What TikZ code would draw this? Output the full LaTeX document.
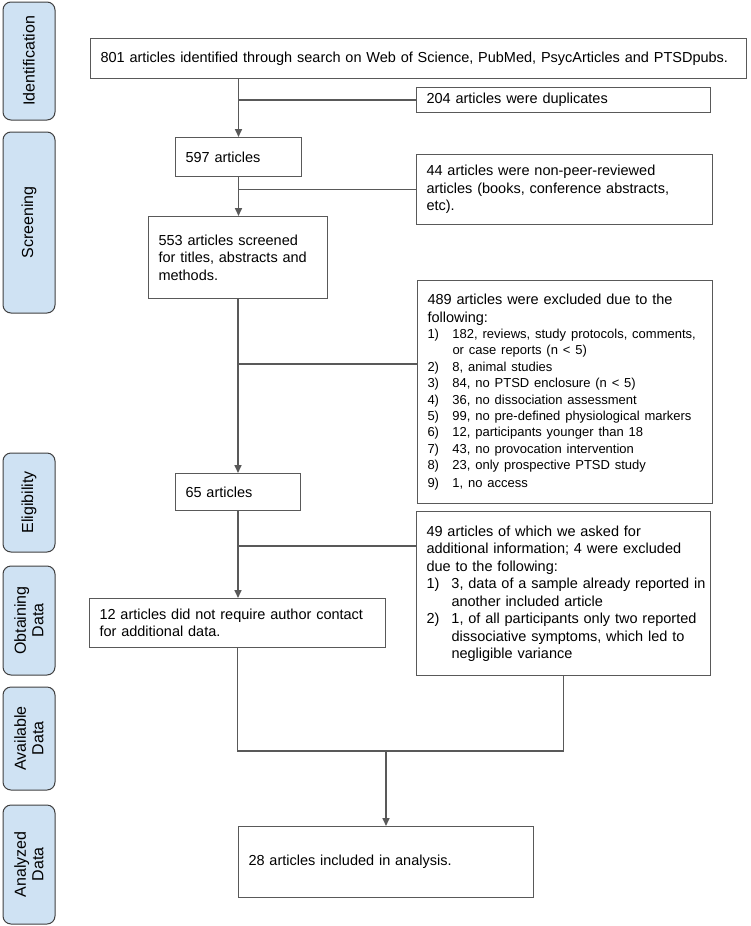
\documentclass[tikz,border=0pt]{standalone}
\usepackage{fontspec}
\setmainfont{Liberation Sans}
\usetikzlibrary{arrows.meta, positioning, calc}

\definecolor{linegray}{HTML}{595959}
\definecolor{stageblue}{HTML}{CFE2F3}
\newcommand{\listnum}[1]{\makebox[25pt][l]{#1}}
\newcommand{\listgap}{\hspace*{25pt}}
\newcommand{\listfont}{\fontsize{13}{16.4}\selectfont}

\begin{document}
\begin{tikzpicture}[x=1pt, y=-1pt, >={Triangle[length=8pt, width=7pt]},
    box/.style={draw=linegray, line width=1pt, anchor=north west, inner xsep=10pt, inner ysep=0pt,
      align=left, font=\fontsize{14.5}{17.5}\selectfont},
    stage/.style={draw=black!75, line width=1pt, fill=stageblue, rounded corners=8pt, rotate=90,
      minimum height=52pt, inner sep=0pt, align=center, font=\fontsize{16}{17.5}\selectfont},
    link/.style={draw=linegray, line width=1.6pt},
    arr/.style={link, ->}]
    \useasboundingbox (0,0) rectangle (750,926);

    % Stage labels on the left
    \node[stage, minimum width=118pt] (sIdent) at (29,61) {Identification};
    \node[stage, minimum width=181pt] (sScreen) at (29,222.5) {Screening};
    \node[stage, minimum width=99pt] (sElig) at (29,502.5) {Eligibility};
    \node[stage, minimum width=109pt] (sObtain) at (29,620.5) {Obtaining\\Data};
    \node[stage, minimum width=103pt] (sAvail) at (29,738.5) {Available\\Data};
    \node[stage, minimum width=119pt] (sAnalyzed) at (29,864.5) {Analyzed\\Data};

    % Main flow boxes
    \node[box, text width=636pt, minimum height=40pt] (n801) at (90,38)
      {801 articles identified through search on Web of Science, PubMed, PsycArticles and PTSDpubs.};
    \node[box, text width=274pt, minimum height=25pt] (n204) at (416,87)
      {204 articles were duplicates};
    \node[box, text width=106pt, minimum height=39pt] (n597) at (175,137)
      {597 articles};
    \node[box, text width=276pt, minimum height=70pt] (n44) at (416,154)
      {44 articles were non-peer-reviewed\\articles (books, conference abstracts,\\etc).};
    \node[box, text width=159pt, minimum height=82pt] (n553) at (148,216)
      {553 articles screened\\for titles, abstracts and\\methods.};
    \node[box, text width=275pt, minimum height=223pt] (n489) at (417,280)
      {489 articles were excluded due to the\\
       following:\\
       \listfont\listnum{1)}182, reviews, study protocols, comments,\\
       \listgap or case reports (n < 5)\\
       \listnum{2)}8, animal studies\\
       \listnum{3)}84, no PTSD enclosure (n < 5)\\
       \listnum{4)}36, no dissociation assessment\\
       \listnum{5)}99, no pre-defined physiological markers\\
       \listnum{6)}12, participants younger than 18\\
       \listnum{7)}43, no provocation intervention\\
       \listnum{8)}23, only prospective PTSD study\\
       \listnum{9)}1, no access};
    \node[box, text width=105pt, minimum height=37pt] (n65) at (175,473)
      {65 articles};
    \node[box, text width=274pt, minimum height=164pt] (n49) at (416,511)
      {49 articles of which we asked for\\
       additional information; 4 were excluded\\
       due to the following:\\
       \listnum{1)}\mbox{3, data of a sample already reported in}\\
       \listgap another included article\\
       \listnum{2)}1, of all participants only two reported\\
       \listgap dissociative symptoms, which led to\\
       \listgap negligible variance\\[6pt]};
    \node[box, text width=276pt, minimum height=49pt] (n12) at (89,598)
      {12 articles did not require author contact\\for additional data.};
    \node[box, text width=275pt, minimum height=71pt] (n28) at (238,826)
      {28 articles included in analysis.};

    % Connectors
    \draw[arr] (n801.south -| n597.north) -- (n597.north);
    \draw[link] (n204.west -| n597.north) -- (n204.west);
    \draw[arr] (n597.south) -- (n597.south |- n553.north);
    \draw[link] (n44.west -| n597.south) -- (n44.west);
    \draw[arr] (n553.south) -- (n553.south |- n65.north);
    \path (n553.south) ++(0,65) coordinate (b489);
    \draw[link] (b489) -- (b489 -| n489.west);
    \draw[arr] (n65.south) -- (n65.south |- n12.north);
    \path (n65.south) ++(0,35) coordinate (b49);
    \draw[link] (b49) -- (b49 -| n49.west);
    \path (n12.south) ++(0,103) coordinate (jl);
    \draw[link] (n12.south) -- (jl) -- (jl -| n49.south) -- (n49.south);
    \draw[arr] (jl -| n28.north) -- (n28.north);
\end{tikzpicture}
\end{document}
